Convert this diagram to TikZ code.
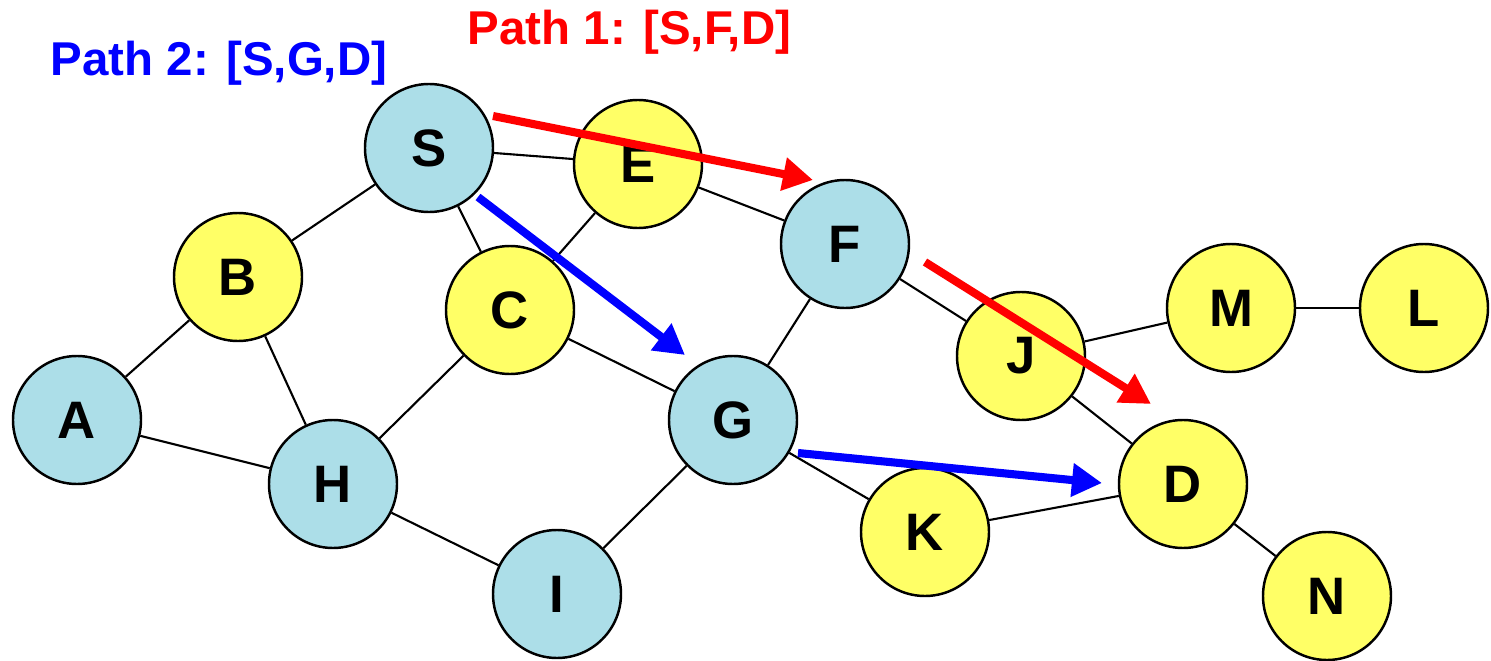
\documentclass[tikz,border=0pt]{standalone}
\usepackage{xcolor}
\usepackage{fontspec}
\setmainfont{Liberation Sans}
\usetikzlibrary{positioning,calc,arrows.meta}
\definecolor{hostcyan}{RGB}{172,222,232}
\definecolor{hostyellow}{RGB}{255,255,102}
\definecolor{routered}{RGB}{255,0,0}
\definecolor{routeblue}{RGB}{0,0,255}

\tikzset{
  host/.style={circle, draw=black, line width=0.7pt, minimum size=1.28cm, inner sep=0pt,
               font=\fontsize{15}{15}\selectfont\bfseries},
  cyanhost/.style={host, fill=hostcyan},
  yellowhost/.style={host, fill=hostyellow},
  link/.style={draw=black, line width=0.6pt},
  redroute/.style={draw=routered, line width=2.3pt, -{Triangle[length=0.3cm,width=0.32cm]}},
  blueroute/.style={draw=routeblue, line width=2.3pt, -{Triangle[length=0.3cm,width=0.32cm]}}
}

\begin{document}
\begin{tikzpicture}
  \useasboundingbox (0,0) rectangle (14.91,-6.61);

  % path captions
  \node[anchor=base west, inner sep=0pt, text=routeblue,
        font=\fontsize{13.5}{15}\selectfont\bfseries] (cap2) at (0.50,-0.76) {Path 2: [S,G,D]};
  \node[anchor=base west, inner sep=0pt, text=routered,
        font=\fontsize{13.5}{15}\selectfont\bfseries] (cap1) at (4.67,-0.45) {Path 1: [S,F,D]};

  % hosts
  \node[cyanhost]   (S) at (4.29,-1.48) {S};
  \node[yellowhost] (E) at (6.38,-1.64) {E};
  \node[yellowhost] (B) at (2.38,-2.77) {B};
  \node[yellowhost] (C) at (5.10,-3.10) {C};
  \node[cyanhost]   (F) at (8.45,-2.44) {F};
  \node[cyanhost]   (G) at (7.33,-4.20) {G};
  \node[cyanhost]   (A) at (0.77,-4.20) {A};
  \node[cyanhost]   (H) at (3.33,-4.84) {H};
  \node[cyanhost]   (I) at (5.57,-5.94) {I};
  \node[yellowhost] (J) at (10.21,-3.56) {J};
  \node[yellowhost] (M) at (12.31,-3.08) {M};
  \node[yellowhost] (L) at (14.24,-3.08) {L};
  \node[yellowhost] (D) at (11.83,-4.84) {D};
  \node[yellowhost] (K) at (9.25,-5.32) {K};
  \node[yellowhost] (N) at (13.27,-5.96) {N};

  % links
  \draw[link] (S) -- (E);
  \draw[link] (S) -- (B);
  \draw[link] (S) -- (C);
  \draw[link] (E) -- (C);
  \draw[link] (E) -- (F);
  \draw[link] (B) -- (A);
  \draw[link] (B) -- (H);
  \draw[link] (A) -- (H);
  \draw[link] (C) -- (H);
  \draw[link] (C) -- (G);
  \draw[link] (F) -- (G);
  \draw[link] (F) -- (J);
  \draw[link] (G) -- (I);
  \draw[link] (H) -- (I);
  \draw[link] (G) -- (K);
  \draw[link] (J) -- (M);
  \draw[link] (M) -- (L);
  \draw[link] (J) -- (D);
  \draw[link] (K) -- (D);
  \draw[link] (D) -- (N);

  % route arrows, offset from the links
  \coordinate (sf0) at ($(S)+(0.64,0.32)$);
  \coordinate (sf1) at ($(F)+(-0.32,0.64)$);
  \coordinate (fd0) at ($(F)+(0.80,-0.18)$);
  \coordinate (fd1) at ($(D)+(-0.32,0.80)$);
  \coordinate (sg0) at ($(S)+(0.49,-0.49)$);
  \coordinate (sg1) at ($(G)+(-0.48,0.65)$);
  \coordinate (gd0) at ($(G)+(0.65,-0.33)$);
  \coordinate (gd1) at ($(D)+(-0.81,0.01)$);
  \draw[redroute] (sf0) -- (sf1);
  \draw[redroute] (fd0) -- (fd1);
  \draw[blueroute] (sg0) -- (sg1);
  \draw[blueroute] (gd0) -- (gd1);
\end{tikzpicture}
\end{document}
